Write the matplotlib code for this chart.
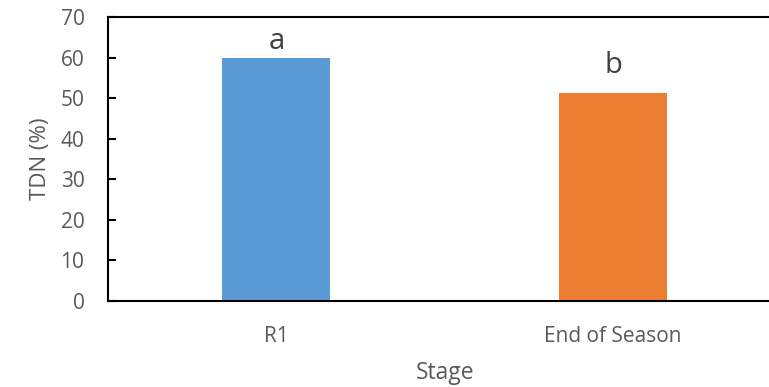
import matplotlib
matplotlib.use("Agg")
import matplotlib.pyplot as plt

stages = ["R1", "End of Season"]
tdn = [60.0, 51.3]
letters = ["a", "b"]
colors = ["#5B9BD5", "#ED7D31"]
# vertical gap (in % TDN) between each bar top and its letter baseline
letter_gap = [2.2, 4.9]

plt.rcParams['font.family'] = ['Open Sans', 'DejaVu Sans']

fig = plt.figure(figsize=(7.69, 3.87), dpi=100)
W, H = 769, 387
x0, x1 = 108, 781.5
y0, y1 = 301, 17
ax = fig.add_axes([x0 / W, 1 - y0 / H, (x1 - x0) / W, (y0 - y1) / H])

xs = list(range(len(stages)))
ax.bar(xs, tdn, width=0.32, color=colors, zorder=2)
for x, v, t, g in zip(xs, tdn, letters, letter_gap):
    ax.text(x, v + g, t, ha='center', va='baseline', fontsize=21, color='#404040')

ax.set_xlim(-0.5, 1.5)
ax.set_ylim(0, 70)
ax.set_yticks(range(0, 71, 10))
ax.set_xticks(xs)
ax.set_xticklabels(stages)

ax.spines['right'].set_visible(False)
for s in ['left', 'bottom', 'top']:
    ax.spines[s].set_linewidth(1.5)

ax.tick_params(axis='y', direction='in', length=6, width=1.5, labelsize=15,
               labelcolor='#595959', pad=17)
ax.tick_params(axis='x', length=0, labelsize=15, labelcolor='#595959', pad=18)

ax.set_ylabel("TDN (%)", fontsize=16, color='#595959', labelpad=7)
ax.set_xlabel("Stage", fontsize=16.5, color='#595959', labelpad=10)

fig.savefig("out.png", dpi=100)
